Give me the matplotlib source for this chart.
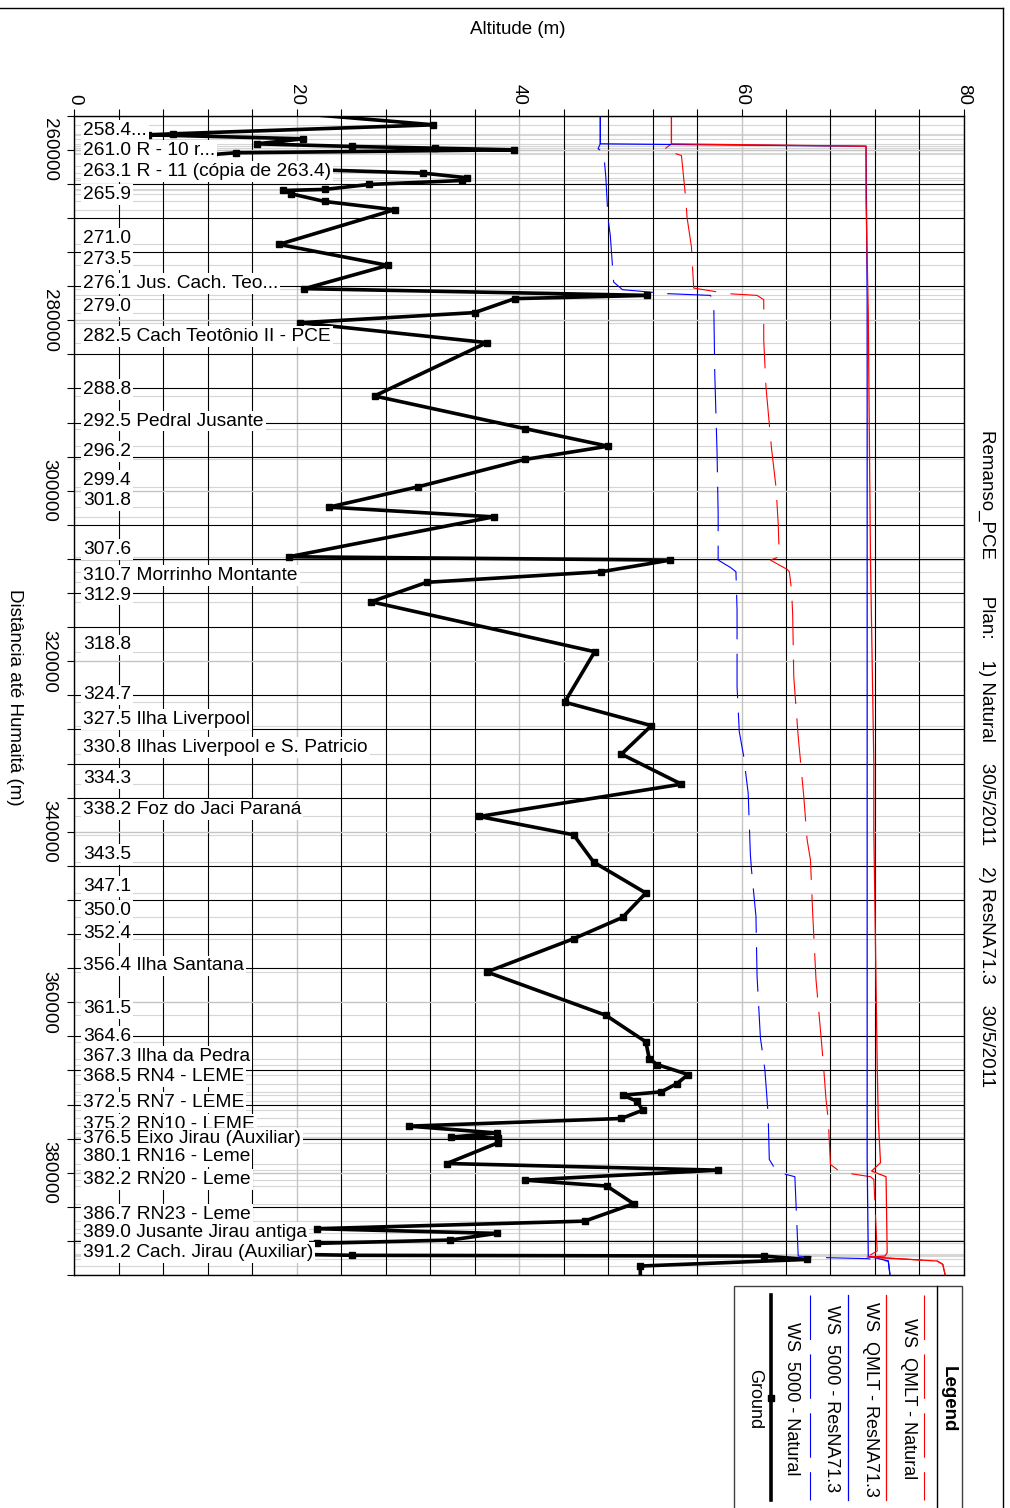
import matplotlib.pyplot as plt
from matplotlib.lines import Line2D
from matplotlib.patches import Rectangle

plt.rcParams['font.family'] = ['Liberation Sans', 'DejaVu Sans']

W, H = 1010, 1508

# ground profile (altitude m, distance to Humaita m)
ground_alt = [18.0, 32.3, 8.9, 6.6, 20.6, 16.4, 25.0, 32.4, 39.5, 14.5, 12.5, 12.2, 31.4, 35.3,
              34.9, 26.5, 22.5, 18.8, 19.5, 22.5, 28.8, 18.4, 28.2, 20.7, 51.5, 39.6, 36.0, 20.3,
              37.1, 27.0, 40.5, 48.0, 40.5, 30.9, 22.9, 37.7, 19.3, 53.6, 47.4, 31.7, 26.7, 46.8,
              44.1, 51.9, 49.2, 54.6, 36.4, 44.9, 46.7, 51.4, 49.3, 44.9, 37.1, 47.8, 51.4, 51.7,
              52.4, 55.2, 54.2, 52.8, 49.3, 50.6, 51.1, 49.2, 30.1, 38.0, 33.9, 38.1, 38.1, 33.5,
              57.9, 40.5, 47.9, 50.3, 45.9, 21.8, 38.0, 33.8, 21.8, 15.8, 25.0, 62.0, 65.9, 50.9,
              50.9]
ground_dist = [255500, 257070, 258125, 258240, 258710, 259300, 259610, 259810, 260000, 260350,
               260550, 261950, 262740, 263280, 263600, 264070, 264650, 264770, 265160, 266060,
               267030, 271100, 273560, 276290, 277080, 277460, 279100, 280290, 282620, 288880,
               292700, 294770, 296330, 299540, 301920, 303060, 307740, 308130, 309500, 310740,
               313020, 318880, 324800, 327550, 330900, 334420, 338210, 340360, 343560, 347190,
               350050, 352550, 356450, 361530, 364650, 366610, 367310, 368480, 369540, 370510,
               370910, 371610, 372670, 373640, 374540, 375340, 375830, 375930, 376490, 378920,
               379700, 380870, 381570, 383640, 385680, 386570, 387120, 387900, 388290, 389480,
               389690, 389780, 390170, 390950, 392500]

# WS QMLT - Natural
qmlt_nat_alt = [53.7, 53.7, 53.0, 54.6, 55.0, 55.1, 55.5, 55.7, 58.8, 61.4, 62.0, 62.0, 62.2,
                62.7, 63.1, 63.3, 63.4, 62.6, 64.1, 64.3, 64.5, 64.6, 64.7, 65.1, 65.6, 65.9,
                66.2, 66.4, 66.7, 67.2, 67.4, 67.6, 67.8, 68.0, 68.9, 71.6, 71.9, 72.2, 71.3,
                77.6, 78.1, 78.4]
qmlt_nat_dist = [255000, 259300, 260000, 260670, 265940, 267900, 271410, 276220, 276880, 277080,
                 277580, 282350, 287820, 295040, 299540, 303830, 307740, 308130, 309220, 309500,
                 311650, 314380, 321810, 328840, 335870, 340940, 343290, 349530, 357350, 364770,
                 367900, 371410, 373760, 379030, 379930, 380470, 380790, 389190, 389850, 390360,
                 390750, 392500]

# WS QMLT - ResNA71.3
qmlt_res_alt = [53.7, 53.7, 71.2, 71.2, 71.4, 71.5, 71.6, 71.9, 71.9, 72.2, 72.3, 72.5, 71.7,
                73.0, 73.1, 72.9, 71.3, 77.6, 78.1, 78.4]
qmlt_res_dist = [255000, 259300, 259580, 265940, 279220, 294070, 308130, 331920, 339770, 367080,
                 373760, 378830, 379810, 380470, 389380, 389780, 389900, 390360, 390750, 392500]

# WS 5000 - ResNA71.3
q5000_res_alt = [47.3, 47.3, 71.2, 71.3, 71.3, 71.3, 71.3, 71.4, 73.2, 73.4]
q5000_res_dist = [255000, 259300, 259580, 277660, 308130, 340920, 378420, 389780, 390360, 392500]

# WS 5000 - Natural
q5000_nat_alt = [47.3, 47.3, 47.1, 47.6, 47.8, 48.0, 48.2, 48.5, 49.3, 53.4, 57.2, 57.5, 57.6,
                 57.8, 57.9, 57.9, 59.0, 59.5, 59.6, 59.6, 59.8, 60.2, 60.6, 60.8, 60.9, 61.3,
                 61.4, 61.7, 62.1, 62.3, 62.4, 62.5, 63.2, 64.8, 65.1, 67.4, 71.3, 73.2, 73.4]
q5000_nat_dist = [255000, 259300, 259880, 260280, 263210, 268090, 270040, 275520, 276410, 276880,
                  277080, 277660, 286450, 295440, 302660, 308130, 308990, 309500, 313990, 322980,
                  328250, 331180, 335470, 342700, 344460, 349930, 356960, 364180, 367900, 371410,
                  373370, 378450, 379930, 380470, 389780, 389960, 390080, 390360, 392500]

# river station labels and where they sit
station_labels = ["258.4...", "261.0 R - 10 r...", "263.1 R - 11 (cópia de 263.4)", "265.9",
                  "271.0", "273.5", "276.1 Jus. Cach. Teo...", "279.0",
                  "282.5 Cach Teotônio II - PCE", "288.8", "292.5 Pedral Jusante", "296.2",
                  "299.4", "301.8", "307.6", "310.7 Morrinho Montante", "312.9", "318.8",
                  "324.7", "327.5 Ilha Liverpool", "330.8 Ilhas Liverpool e S. Patricio",
                  "334.3", "338.2 Foz do Jaci Paraná", "343.5", "347.1", "350.0", "352.4",
                  "356.4 Ilha Santana", "361.5", "364.6", "367.3 Ilha da Pedra",
                  "368.5 RN4 - LEME", "372.5 RN7 - LEME", "375.2 RN10 - LEME",
                  "376.5 Eixo Jirau (Auxiliar)", "380.1 RN16 - Leme", "382.2 RN20 - Leme",
                  "386.7 RN23 - Leme", "389.0 Jusante Jirau antiga",
                  "391.2 Cach. Jirau (Auxiliar)"]
station_dist = [257700, 260120, 262570, 265240, 270370, 272910, 275670, 278390, 281860, 288150,
                291820, 295440, 298760, 301100, 306880, 309970, 312230, 318090, 323950, 326800,
                330130, 333710, 337430, 342700, 346420, 349230, 351880, 355750, 360770, 364000,
                366370, 368680, 371730, 374340, 376020, 378130, 380790, 384890, 387030, 389380]

alt_ticks = [0, 20, 40, 60, 80]
dist_ticks = [260000, 280000, 300000, 320000, 340000, 360000, 380000]

legend_labels = ["WS  QMLT - Natural", "WS  QMLT - ResNA71.3", "WS  5000 - ResNA71.3",
                 "WS  5000 - Natural", "Ground"]


def fx(x):
    return x / W


def fy(y):
    return 1 - y / H


fig = plt.figure(figsize=(W / 100, H / 100), dpi=100)
ax = fig.add_axes([fx(74.3), fy(1275), fx(963.9) - fx(74.3), fy(115.7) - fy(1275)])

ax.set_xlim(0, 80)
ax.set_ylim(392000, 256000)

# grid
ax.set_xticks(alt_ticks)
ax.set_xticks(range(0, 81, 4), minor=True)
ax.set_yticks(dist_ticks)
ax.set_yticks(range(256000, 392001, 4000), minor=True)
ax.grid(which='major', color='#c4c4c4', lw=1.0, zorder=0)
ax.grid(which='minor', color='black', lw=0.8, zorder=0)
ax.hlines([d for d in ground_dist if 256000 < d < 392000], 0, 80, color='#d6d6d6', lw=0.8,
          zorder=0.5)
ax.set_axisbelow(True)

dash = (0, (40, 13))
ax.plot(qmlt_nat_alt, qmlt_nat_dist, color='red', lw=0.8, ls=dash, zorder=2)
ax.plot(q5000_nat_alt, q5000_nat_dist, color='blue', lw=0.8, ls=dash, zorder=2)
ax.plot(q5000_res_alt, q5000_res_dist, color='blue', lw=0.9, zorder=2.1)
ax.plot(qmlt_res_alt, qmlt_res_dist, color='red', lw=0.9, zorder=2.2)
ax.plot(ground_alt, ground_dist, color='black', lw=2.6, marker='s', ms=4, zorder=3)

for lab, d in zip(station_labels, station_dist):
    ax.text(0.8, d, lab, fontsize=13.8, ha='left', va='center', zorder=5,
            bbox=dict(boxstyle='square,pad=0.1', fc='white', ec='none'))

ax.xaxis.tick_top()
ax.set_xticklabels([str(v) for v in alt_ticks], rotation=-90, fontsize=13.5)
ax.set_yticklabels([str(v) for v in dist_ticks], rotation=-90, fontsize=13.5, va='center')
ax.tick_params(axis='x', which='both', top=True, bottom=False, direction='out', length=5,
               width=0.8, pad=3)
ax.tick_params(axis='y', which='both', left=True, right=False, direction='out', length=5,
               width=0.8, pad=7)
for s in ax.spines.values():
    s.set_linewidth(1.0)

fig.text(fx(518), fy(30), "Altitude (m)", fontsize=13.5, ha='center', va='center')
fig.text(fx(14), fy(697), "Distância até Humaitá (m)", fontsize=13.5, ha='center', va='center',
         rotation=-90)
fig.text(fx(987), fy(430),
         "Remanso_PCE       Plan:    1) Natural    30/5/2011    2) ResNA71.3    30/5/2011",
         fontsize=13.5, ha='center', va='top', rotation=-90)

# figure frame
fig.add_artist(Line2D([0, fx(1003)], [fy(8), fy(8)], color='black', lw=1,
                      transform=fig.transFigure))
fig.add_artist(Line2D([fx(1003), fx(1003)], [fy(8), 0], color='black', lw=1,
                      transform=fig.transFigure))

# legend (rotated, drawn by hand)
fig.add_artist(Rectangle((fx(734), fy(1520)), fx(962) - fx(734), fy(1286) - fy(1520),
                         fill=False, ec='#404040', lw=1, transform=fig.transFigure))
fig.add_artist(Line2D([fx(936.7)] * 2, [fy(1286), 0], color='black', lw=1,
                      transform=fig.transFigure))
fig.text(fx(948), fy(1399), "Legend", fontsize=13.5, fontweight='bold', rotation=-90,
         ha='center', va='center')
leg_line_x = [924.3, 886, 848.3, 810, 771]
leg_text_x = [908, 870, 831.7, 791.7, 755]
leg_styles = [('red', dash, 0.8), ('red', '-', 0.9), ('blue', '-', 0.9), ('blue', dash, 0.8),
              ('black', '-', 2.6)]
for lx, tx, lab, (c, ls, lw) in zip(leg_line_x, leg_text_x, legend_labels, leg_styles):
    fig.add_artist(Line2D([fx(lx)] * 2, [fy(1295), fy(1500)], color=c, ls=ls, lw=lw,
                          transform=fig.transFigure))
    fig.text(fx(tx), fy(1399), lab, fontsize=13, rotation=-90, ha='center', va='center')
fig.add_artist(Line2D([fx(771)], [fy(1398)], color='black', marker='s', ms=4,
                      transform=fig.transFigure))

fig.savefig('out.png', dpi=100)
